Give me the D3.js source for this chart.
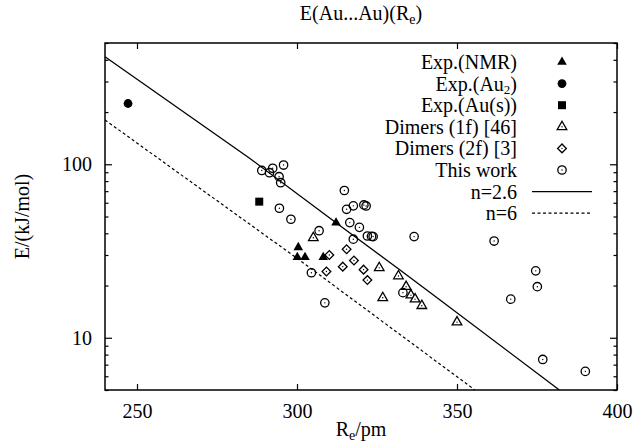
<!DOCTYPE html>
<html>
<head>
<meta charset="utf-8">
<script src="https://cdn.jsdelivr.net/npm/d3@7"></script>
<style>
  body { margin: 0; background: #fff; }
  svg { display: block; }
  text { font-family: "Liberation Serif", "DejaVu Serif", serif; fill: #000; }
</style>
</head>
<body>
<svg id="chart" width="635" height="443"></svg>
<script>
// values: [R_e / pm, E / kJ mol^-1]
const expNmr = [[300.4, 33.2], [300.1, 29.1], [302.5, 29.1], [308.2, 29.1], [312.2, 46.0]]
const expAu2 = [[247.2, 224]]
const expAuS = [[288.2, 60.9]]
const dimers1f = [[305.1, 37.7], [325.7, 25.3], [331.7, 22.7], [334.1, 19.7], [335.6, 17.6],
  [336.9, 16.7], [339.0, 15.3], [326.8, 17.0], [350.0, 12.3]]
const dimers2f = [[310.1, 30.0], [315.5, 32.4], [317.8, 27.9], [314.3, 25.7], [309.2, 24.1],
  [320.8, 24.7], [322.0, 21.5]]
const thisWork = [[289.0, 92.1], [291.4, 89.4], [292.4, 94.8], [295.8, 99.0], [294.4, 84.8],
  [294.9, 78.3], [294.5, 55.8], [298.1, 48.2], [306.9, 41.4], [304.5, 23.7], [308.7, 15.9],
  [314.8, 70.6], [315.5, 55.0], [317.6, 57.6], [320.9, 58.3], [321.6, 57.5], [316.5, 46.1],
  [319.5, 43.3], [317.6, 37.0], [322.0, 38.6], [323.3, 38.4], [323.8, 38.3], [336.6, 38.3],
  [333.1, 18.2], [361.6, 36.1], [374.6, 24.3], [375.1, 19.7], [366.8, 16.7], [376.8, 7.5],
  [390.1, 6.4]]
const lineN26 = [[240, 417], [285.3, 108], [312.2, 46], [332.2, 24.6], [344.7, 16.5], [382, 5]]
const lineN6 = [[240, 180], [300.5, 28.3], [355.6, 5]]

const xTicks = [250, 300, 350, 400]
const yTicks = [10, 100]
const yMinor = [5, 6, 7, 8, 9, 20, 30, 40, 50, 60, 70, 80, 90, 200, 300, 400, 500]

const serif = '"Liberation Serif", "DejaVu Serif", serif'
const margin = { left: 105, right: 18, top: 43, bottom: 53 }
const svg = d3.select('#chart')
const W = +svg.attr('width')
const H = +svg.attr('height')
const w = W - margin.left - margin.right
const h = H - margin.top - margin.bottom

const x = d3.scaleLinear().domain([240, 400]).range([0, w])
const y = d3.scaleLog().domain([5, 500]).range([h, 0])

const g = svg.append('g').attr('transform', `translate(${margin.left},${margin.top})`)

g.append('defs').append('clipPath').attr('id', 'clip')
  .append('rect').attr('width', w).attr('height', h)

// axes, ticks pointing inwards on all four sides
function styleAxis (sel) {
  sel.attr('font-family', serif)
  sel.select('.domain').remove()
  sel.selectAll('line').attr('stroke', '#000').attr('stroke-width', 1.2)
  sel.selectAll('text').style('font-size', '20px').style('font-family', serif)
}

g.append('g').attr('transform', `translate(0,${h})`)
  .call(d3.axisBottom(x).tickValues(xTicks).tickSize(-6).tickPadding(14).tickFormat(d3.format('d')))
  .call(styleAxis)
g.append('g')
  .call(d3.axisTop(x).tickValues(xTicks).tickSize(-6).tickFormat(''))
  .call(styleAxis)

g.append('g')
  .call(d3.axisLeft(y).tickValues(yTicks).tickSize(-7).tickPadding(13).tickFormat(d3.format('d')))
  .call(styleAxis)
g.append('g')
  .call(d3.axisLeft(y).tickValues(yMinor).tickSize(-3.5).tickFormat(''))
  .call(styleAxis)
g.append('g').attr('transform', `translate(${w},0)`)
  .call(d3.axisRight(y).tickValues(yTicks).tickSize(-7).tickFormat(''))
  .call(styleAxis)
g.append('g').attr('transform', `translate(${w},0)`)
  .call(d3.axisRight(y).tickValues(yMinor).tickSize(-3.5).tickFormat(''))
  .call(styleAxis)

g.append('rect')
  .attr('width', w).attr('height', h)
  .attr('fill', 'none').attr('stroke', '#000').attr('stroke-width', 1.5)

// fitted lines
const line = d3.line().x(d => x(d[0])).y(d => y(d[1]))
const plot = g.append('g').attr('clip-path', 'url(#clip)')
plot.append('path').datum(lineN26).attr('d', line)
  .attr('fill', 'none').attr('stroke', '#000').attr('stroke-width', 1.3)
plot.append('path').datum(lineN6).attr('d', line)
  .attr('fill', 'none').attr('stroke', '#000').attr('stroke-width', 1.2).attr('stroke-dasharray', '3,2.5')

// marker painters
const tri = d3.symbol().type(d3.symbolTriangle).size(40)()
const sq = d3.symbol().type(d3.symbolSquare).size(64)()
const dia = d3.symbol().type(d3.symbolSquare).size(38)()

const markers = {
  nmr: s => s.append('path').attr('d', tri).attr('fill', '#000'),
  au2: s => s.append('circle').attr('r', 4.4).attr('fill', '#000'),
  aus: s => s.append('path').attr('d', sq).attr('fill', '#000'),
  d1f: s => {
    s.append('path').attr('d', tri).attr('fill', '#fff').attr('stroke', '#000').attr('stroke-width', 1.3)
    s.append('circle').attr('r', 0.7).attr('fill', '#000')
  },
  d2f: s => {
    s.append('path').attr('d', dia).attr('transform', 'rotate(45)')
      .attr('fill', '#fff').attr('stroke', '#000').attr('stroke-width', 1.3)
    s.append('circle').attr('r', 0.7).attr('fill', '#000')
  },
  work: s => {
    s.append('circle').attr('r', 4.2).attr('fill', 'none').attr('stroke', '#000').attr('stroke-width', 1.3)
    s.append('circle').attr('r', 0.7).attr('fill', '#000')
  }
}

const series = [
  ['d2f', dimers2f], ['d1f', dimers1f], ['work', thisWork],
  ['nmr', expNmr], ['au2', expAu2], ['aus', expAuS]
]
series.forEach(([key, data]) => {
  plot.append('g').selectAll('g').data(data).join('g')
    .attr('transform', d => `translate(${x(d[0])},${y(d[1])})`)
    .each(function () { markers[key](d3.select(this)) })
})

// legend
const legendLabels = [
  ['Exp.(NMR)'], ['Exp.(Au', '2', ')'], ['Exp.(Au(s))'], ['Dimers (1f) [46]'],
  ['Dimers (2f) [3]'], ['This work'], ['n=2.6'], ['n=6']
]
const legendKeys = ['nmr', 'au2', 'aus', 'd1f', 'd2f', 'work', 'solid', 'dash']
const lg = svg.append('g')
legendLabels.forEach((parts, i) => {
  const ly = 62 + i * 21.6
  const t = lg.append('text').attr('x', 517).attr('y', ly + 7)
    .attr('text-anchor', 'end').style('font-size', '20px').style('font-family', serif)
  parts.forEach((p, j) => {
    if (j === 1) t.append('tspan').text(p).attr('dy', 3).style('font-size', '13px')
    else t.append('tspan').text(p).attr('dy', j === 2 ? -3 : 0)
  })
  const key = legendKeys[i]
  if (key === 'solid' || key === 'dash') {
    lg.append('line').attr('x1', 532).attr('x2', 592).attr('y1', ly).attr('y2', ly)
      .attr('stroke', '#000').attr('stroke-width', 1.3)
      .attr('stroke-dasharray', key === 'dash' ? '3,2.5' : null)
  } else {
    markers[key](lg.append('g').attr('transform', `translate(562,${ly})`))
  }
})

// titles
svg.append('text').attr('x', margin.left + w / 2).attr('y', 20)
  .attr('text-anchor', 'middle').style('font-size', '20px').style('font-family', serif)
  .call(t => {
    t.append('tspan').text('E(Au...Au)(R')
    t.append('tspan').text('e').attr('dy', 4).style('font-size', '14px')
    t.append('tspan').text(')').attr('dy', -4)
  })

svg.append('text').attr('x', margin.left + w / 2).attr('y', 436)
  .attr('text-anchor', 'middle').style('font-size', '20px').style('font-family', serif)
  .call(t => {
    t.append('tspan').text('R')
    t.append('tspan').text('e').attr('dy', 4).style('font-size', '14px')
    t.append('tspan').text('/pm').attr('dy', -4)
  })

svg.append('text')
  .attr('transform', `translate(29,${margin.top + h / 2}) rotate(-90)`)
  .attr('text-anchor', 'middle').style('font-size', '20px').style('font-family', serif)
  .text('E/(kJ/mol)')
</script>
</body>
</html>
